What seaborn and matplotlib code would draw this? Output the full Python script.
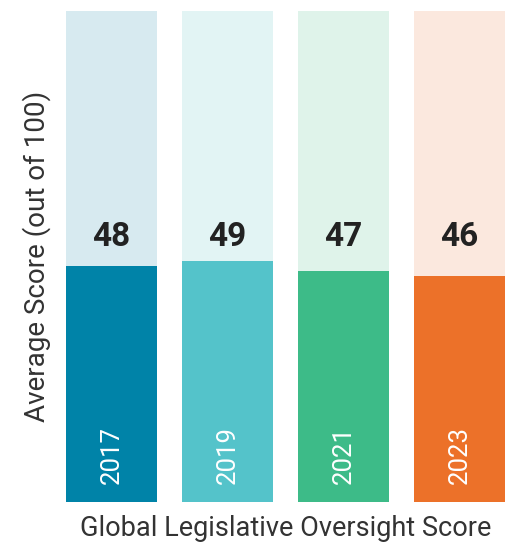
import matplotlib.pyplot as plt
import pandas as pd
import seaborn as sns

# average legislative oversight score per survey year
years = ['2017', '2019', '2021', '2023']
scores = [48, 49, 47, 46]
dark_colors = ['#0083a8', '#54c3ca', '#3dbb88', '#ec7129']
light_colors = ['#d7eaf0', '#e2f4f4', '#dff3ea', '#fbe8de']

df = pd.DataFrame({'year': years, 'score': scores, 'full': [100] * len(years)})

sns.set_style('white')
plt.rcParams['font.family'] = ['Roboto', 'DejaVu Sans']

fig = plt.figure(figsize=(5.11, 5.44), dpi=100)
ax = fig.add_axes([66 / 511, 42 / 544, 439 / 511, 491 / 544])

# background bars up to 100, then the score bars on top
sns.barplot(data=df, x='year', y='full', hue='year', palette=light_colors,
            width=0.784, legend=False, ax=ax, saturation=1, linewidth=0)
sns.barplot(data=df, x='year', y='score', hue='year', palette=dark_colors,
            width=0.784, legend=False, ax=ax, saturation=1, linewidth=0)

for i, row in df.iterrows():
    # score labels sit on one common line
    ax.text(i, 54.0, str(row['score']), ha='center', va='center',
            fontsize=24, fontweight='bold', color='#222222')
    ax.text(i, 3.6, row['year'], ha='center', va='bottom', rotation=90,
            fontsize=18.5, color='white')

ax.set_xlim(-0.392, 3.392)
ax.set_ylim(0, 100)
ax.set_xticks([])
ax.set_yticks([])
for s in ax.spines.values():
    s.set_visible(False)

ax.set_xlabel('Global Legislative Oversight Score', fontsize=19.5,
              color='#333333', labelpad=9)
ax.set_ylabel('Average Score (out of 100)', fontsize=20,
              color='#333333', labelpad=11)

plt.savefig('out.png', dpi=100)
